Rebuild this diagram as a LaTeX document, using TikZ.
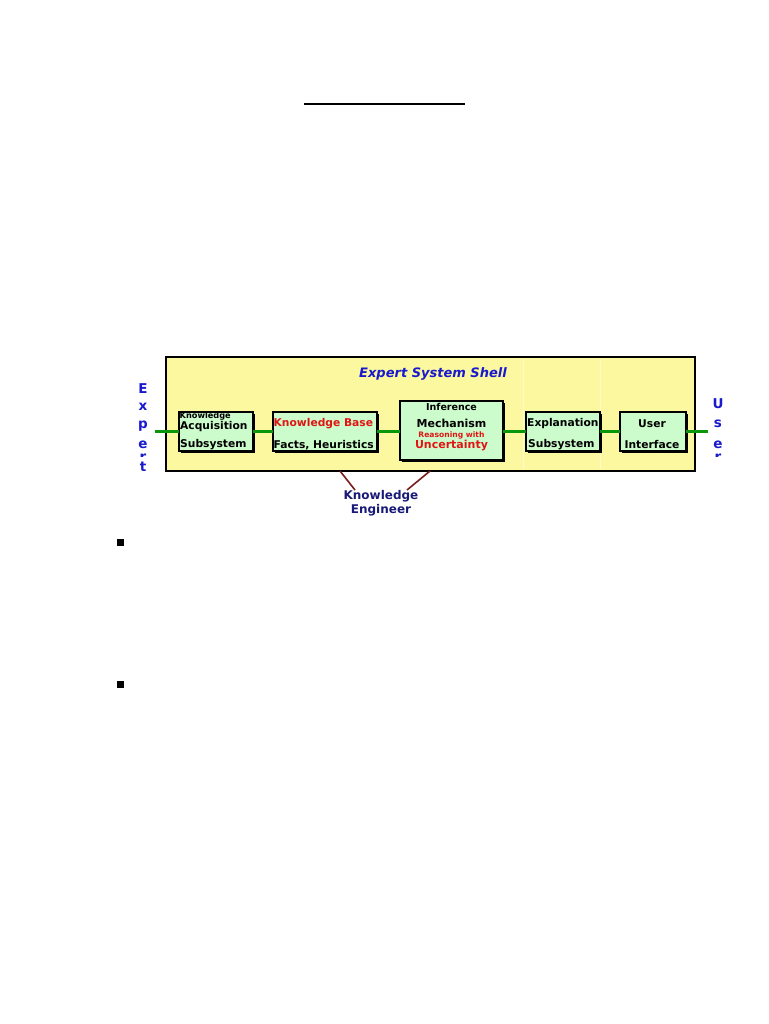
\documentclass[tikz,border=0pt]{standalone}
\usepackage{fontspec}
\setmainfont{DejaVu Sans}
\usepackage{tikz}
\newdimen\unitsize
\setlength{\unitsize}{1pt}
\definecolor{shellyellow}{RGB}{251,248,160}
\definecolor{modgreen}{RGB}{204,252,204}
\definecolor{wiregreen}{RGB}{10,150,10}
\definecolor{shellblue}{RGB}{25,25,205}
\definecolor{engblue}{RGB}{25,25,120}
\definecolor{kbred}{RGB}{225,20,20}
\definecolor{engbrown}{RGB}{120,30,30}

\begin{document}
\begin{tikzpicture}[x=\unitsize,y=-\unitsize,
  modbox/.style={draw=black,fill=modgreen,line width=1.1pt,inner sep=0pt,outer sep=0pt},
  modtxt/.style={font=\bfseries\fontsize{10.7}{12}\selectfont,inner sep=0pt},
  sidetxt/.style={font=\bfseries\fontsize{13.5}{15}\selectfont,text=shellblue,inner sep=0pt}]
\useasboundingbox (0,0) rectangle (768,1024);
\draw[line width=2pt] (304,104) -- (465,104);
% the shell
\node[draw=black,fill=shellyellow,line width=1.5pt,minimum width=529pt,minimum height=114pt,inner sep=0pt] (shell) at (430.5,414) {};
\foreach \dvx in {523,600}{
  \draw[white!45!shellyellow,line width=0.7pt] (\dvx,359) -- (\dvx,469);
}
\node[font=\bfseries\itshape\fontsize{13}{15}\selectfont,text=shellblue] (title) at (433,374) {Expert System Shell};
% modules, shadow first
\foreach \mname/\mx/\my/\mw/\mh in {acq/179/412/74/39,kb/273/412/104/39,inf/400/401/103/59,expl/526/412/74/39,ui/620/412/66/39}{
  \fill[black] ({\mx+1.5},{\my+1.5}) rectangle ++(\mw,\mh);
  \node[modbox,minimum width=\mw\unitsize,minimum height=\mh\unitsize] (\mname) at ({\mx+\mw/2},{\my+\mh/2}) {};
}
\coordinate (xin) at (155,431.5);
\coordinate (uout) at (708,431.5);
\draw[draw=wiregreen,line width=2.2pt] (xin) -- (acq.west) (acq.east) -- (kb.west)
  (kb.east) -- (inf.west |- kb.east) (inf.east |- expl.west) -- (expl.west)
  (expl.east) -- (ui.west) (ui.east) -- (uout);
% module texts
\node[modtxt,anchor=west,font=\bfseries\fontsize{8.2}{9}\selectfont] (acq1) at (179.5,416.5) {Knowledge};
\node[modtxt,anchor=west] (acq2) at (180,427) {Acquisition};
\node[modtxt,anchor=west] (acq3) at (180,445) {Subsystem};
\node[modtxt,anchor=west,text=kbred] (kb1) at (273.5,424) {Knowledge Base};
\node[modtxt,anchor=west] (kb2) at (273.5,445) {Facts, Heuristics};
\node[modtxt,font=\bfseries\fontsize{9.5}{10}\selectfont] (inf1) at (451.5,407) {Inference};
\node[modtxt,font=\bfseries\fontsize{11}{12}\selectfont] (inf2) at (451.5,423) {Mechanism};
\node[modtxt,text=kbred,font=\bfseries\fontsize{7.6}{9}\selectfont] (inf3) at (451.5,435) {Reasoning with};
\node[modtxt,text=kbred,font=\bfseries\fontsize{11}{12}\selectfont] (inf4) at (451.5,446) {Uncertainty};
\node[modtxt,anchor=west] (expl1) at (527,424) {Explanation};
\node[modtxt,anchor=west] (expl2) at (528,445) {Subsystem};
\node[modtxt] (ui1) at (652,424) {User};
\node[modtxt] (ui2) at (652,445) {Interface};
% side letters
\foreach \ltr/\ly in {E/389,x/407,p/426,e/445,t/467}{
  \node[sidetxt] at (143,\ly) {\ltr};
}
\foreach \ltr/\ly in {U/404,s/424,e/445}{
  \node[sidetxt] at (718,\ly) {\ltr};
}
\begin{scope}
  \clip (130,452) rectangle (730,456.5);
  \node[sidetxt,text height=3pt,text depth=0pt,anchor=base] at (143,461) {r};
  \node[sidetxt,text height=3pt,text depth=0pt,anchor=base] at (718,461) {r};
\end{scope}
% knowledge engineer
\node[font=\bfseries\fontsize{12}{14}\selectfont,text=engblue,align=center,inner sep=0pt] (keng) at (381,503) {Knowledge\\Engineer};
\coordinate (kenga) at (340,471);
\coordinate (kengb) at (430,471);
\coordinate (kengc) at (355,490);
\coordinate (kengd) at (407,490);
\draw[engbrown,line width=1.6pt] (kenga) -- (kengc) (kengb) -- (kengd);
% bullets
\foreach \by in {542,684}{
  \fill[black] (116.5,{\by-3.5}) rectangle ++(7,7);
}
\end{tikzpicture}
\end{document}
